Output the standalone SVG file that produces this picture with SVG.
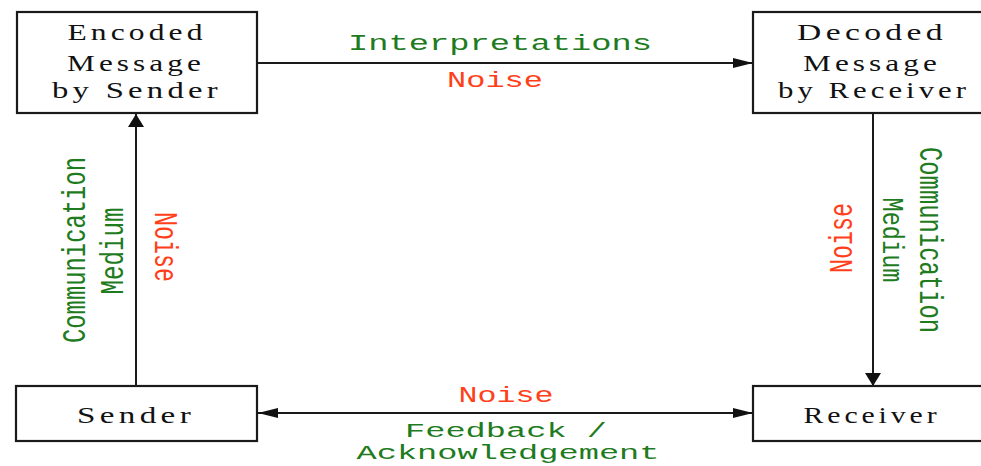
<svg xmlns="http://www.w3.org/2000/svg" width="981" height="466" viewBox="0 0 981 466">
<style>
.box{fill:#fff;stroke:#1a1a1a;stroke-width:2.2}
.bt{font-family:"Liberation Serif",serif;font-size:23px;fill:#111;text-anchor:middle;letter-spacing:3px}
.lbl{font-family:"Liberation Mono",monospace;font-size:22px;text-anchor:middle}
.sm{font-size:20px}
.g{fill:#1e7b1e}
.r{fill:#ff3f1a}
.ln{stroke:#1a1a1a;stroke-width:2;fill:none}
</style>
<defs>
<marker id="ah" markerWidth="20" markerHeight="12" refX="20" refY="6" orient="auto-start-reverse" markerUnits="userSpaceOnUse">
<polygon points="0,1 20,6 0,11" fill="#111"/>
</marker>
<marker id="av" markerWidth="13" markerHeight="16" refX="13" refY="8" orient="auto" markerUnits="userSpaceOnUse">
<polygon points="0,0 13,8 0,16" fill="#111"/>
</marker>
</defs>
<rect width="981" height="466" fill="#fff"/>
<g id="connectors">
<line class="ln" x1="258" y1="63" x2="753" y2="63" marker-end="url(#ah)"/>
<line class="ln" x1="136" y1="386" x2="136" y2="114" marker-end="url(#av)"/>
<line class="ln" x1="873" y1="114" x2="873" y2="386" marker-end="url(#av)"/>
<line class="ln" x1="258" y1="413" x2="753" y2="413" marker-start="url(#ah)" marker-end="url(#ah)"/>
<text class="lbl g" x="500" y="50" textLength="304" lengthAdjust="spacingAndGlyphs">Interpretations</text>
<text class="lbl r" x="495" y="87" textLength="96" lengthAdjust="spacingAndGlyphs">Noise</text>
<text class="lbl r" x="506" y="402" textLength="95" lengthAdjust="spacingAndGlyphs">Noise</text>
<text class="lbl sm g" x="506" y="437" textLength="202" lengthAdjust="spacingAndGlyphs">Feedback /</text>
<text class="lbl sm g" x="508" y="459" textLength="303" lengthAdjust="spacingAndGlyphs">Acknowledgement</text>
<text class="lbl g" transform="translate(85,250) scale(1.5,1) rotate(-90)" textLength="186" lengthAdjust="spacingAndGlyphs">Communication</text>
<text class="lbl g" transform="translate(123,251) scale(1.5,1) rotate(-90)" textLength="87" lengthAdjust="spacingAndGlyphs">Medium</text>
<text class="lbl r" transform="translate(155,247) scale(1.5,1) rotate(90)" textLength="70" lengthAdjust="spacingAndGlyphs">Noise</text>
<text class="lbl r" transform="translate(852,238) scale(1.5,1) rotate(-90)" textLength="70" lengthAdjust="spacingAndGlyphs">Noise</text>
<text class="lbl g" transform="translate(883,240) scale(1.3,1) rotate(90)" textLength="85" lengthAdjust="spacingAndGlyphs">Medium</text>
<text class="lbl g" transform="translate(920,240) scale(1.5,1) rotate(90)" textLength="186" lengthAdjust="spacingAndGlyphs">Communication</text>
</g>
<g id="encoded">
<rect class="box" x="17" y="12" width="240" height="101"/>
<text class="bt" x="137" y="40" textLength="139" lengthAdjust="spacingAndGlyphs">Encoded</text>
<text class="bt" x="136" y="71" textLength="138" lengthAdjust="spacingAndGlyphs">Message</text>
<text class="bt" x="137" y="98" textLength="170" lengthAdjust="spacingAndGlyphs">by Sender</text>
</g>
<g id="decoded">
<rect class="box" x="753" y="12" width="240" height="101"/>
<text class="bt" x="872" y="40" textLength="150" lengthAdjust="spacingAndGlyphs">Decoded</text>
<text class="bt" x="872" y="71" textLength="138" lengthAdjust="spacingAndGlyphs">Message</text>
<text class="bt" x="874" y="98" textLength="192" lengthAdjust="spacingAndGlyphs">by Receiver</text>
</g>
<g id="sender">
<rect class="box" x="16" y="386" width="241" height="55"/>
<text class="bt" x="136" y="423" textLength="118" lengthAdjust="spacingAndGlyphs">Sender</text>
</g>
<g id="receiver">
<rect class="box" x="753" y="386" width="240" height="55"/>
<text class="bt" x="872" y="423" textLength="137" lengthAdjust="spacingAndGlyphs">Receiver</text>
</g>
</svg>
